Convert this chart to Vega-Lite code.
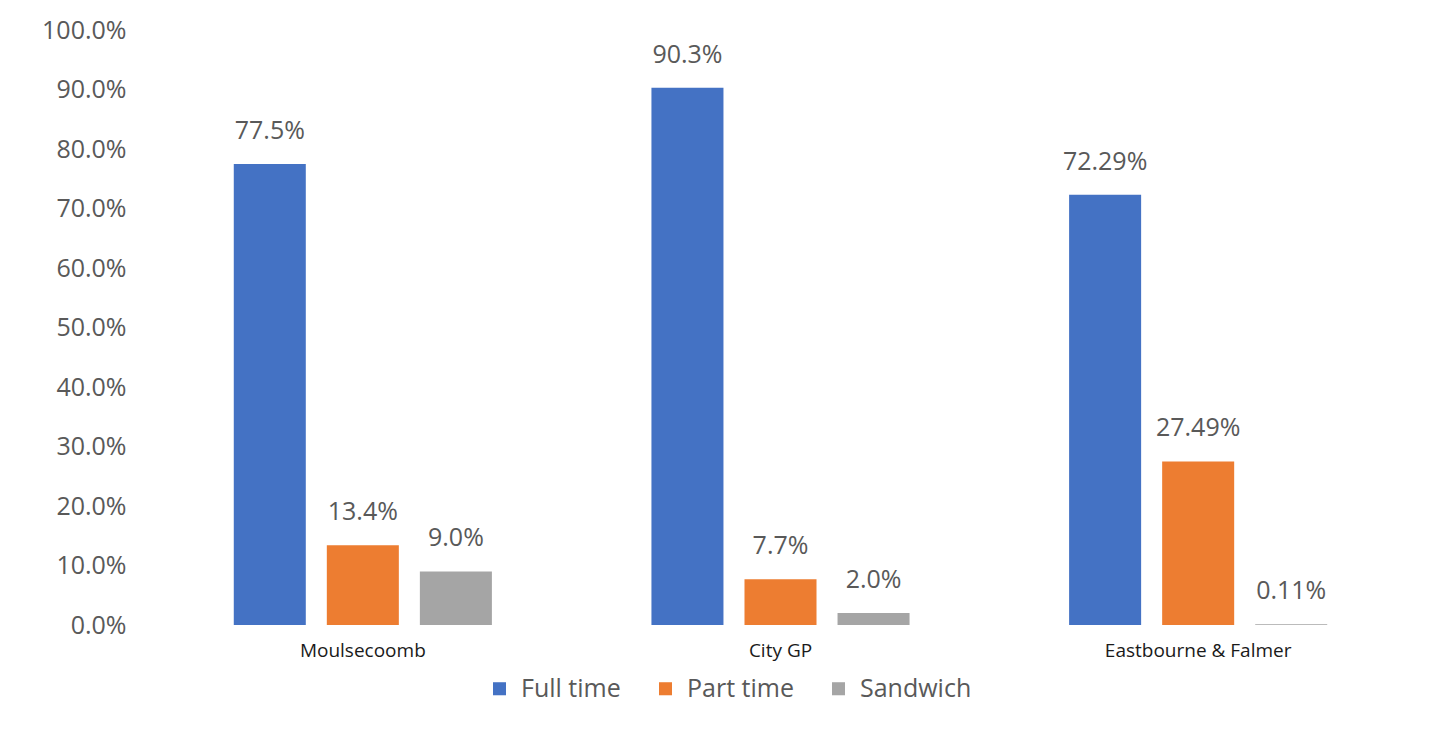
{
  "$schema": "https://vega.github.io/schema/vega-lite/v6.json",
  "autosize": "none",
  "width": 1253,
  "height": 595,
  "padding": {"left": 154, "top": 30, "right": 28, "bottom": 106},
  "background": "white",
  "config": {
    "view": {"stroke": null},
    "font": "Open Sans"
  },
  "data": {
    "values": [
      {"campus": "Moulsecoomb", "mode": "Full time", "share": 0.775, "label": "77.5%"},
      {"campus": "Moulsecoomb", "mode": "Part time", "share": 0.134, "label": "13.4%"},
      {"campus": "Moulsecoomb", "mode": "Sandwich", "share": 0.09, "label": "9.0%"},
      {"campus": "City GP", "mode": "Full time", "share": 0.903, "label": "90.3%"},
      {"campus": "City GP", "mode": "Part time", "share": 0.077, "label": "7.7%"},
      {"campus": "City GP", "mode": "Sandwich", "share": 0.02, "label": "2.0%"},
      {"campus": "Eastbourne & Falmer", "mode": "Full time", "share": 0.7229, "label": "72.29%"},
      {"campus": "Eastbourne & Falmer", "mode": "Part time", "share": 0.2749, "label": "27.49%"},
      {"campus": "Eastbourne & Falmer", "mode": "Sandwich", "share": 0.0011, "label": "0.11%"}
    ]
  },
  "encoding": {
    "x": {
      "field": "campus", "type": "nominal", "sort": null, "title": null,
      "scale": {"paddingInner": 0.382, "paddingOuter": 0.191},
      "axis": {"domain": false, "ticks": false, "labelAngle": 0, "labelFontSize": 19, "labelLimit": 0, "labelColor": "#1a1a1a", "labelPadding": 16}
    },
    "xOffset": {
      "field": "mode", "type": "nominal", "sort": null,
      "scale": {"paddingInner": 0.226, "paddingOuter": 0}
    },
    "y": {
      "field": "share", "type": "quantitative", "title": null,
      "scale": {"domain": [0, 1]},
      "axis": {"format": ".1%", "values": [0,0.1,0.2,0.3,0.4,0.5,0.6,0.7,0.8,0.9,1.0], "labelOverlap": false, "grid": false, "domain": false, "ticks": false, "labelFontSize": 25, "labelColor": "#595959", "labelPadding": 28}
    }
  },
  "layer": [
    {
      "mark": {"type": "bar"},
      "encoding": {
        "color": {
          "field": "mode", "type": "nominal", "sort": null, "title": null,
          "scale": {"domain": ["Full time", "Part time", "Sandwich"], "range": ["#4472C4", "#ED7D31", "#A5A5A5"]},
          "legend": {
            "orient": "none", "legendX": 333, "legendY": 646, "direction": "horizontal", "symbolType": "square", "symbolSize": 170,
            "labelFontSize": 25, "labelColor": "#595959", "columnPadding": 32, "symbolStrokeWidth": 0, "labelOffset": 9
          }
        }
      }
    },
    {
      "mark": {"type": "text", "baseline": "middle", "dy": -33, "fontSize": 25, "color": "#595959"},
      "encoding": {"text": {"field": "label"}}
    }
  ]
}
